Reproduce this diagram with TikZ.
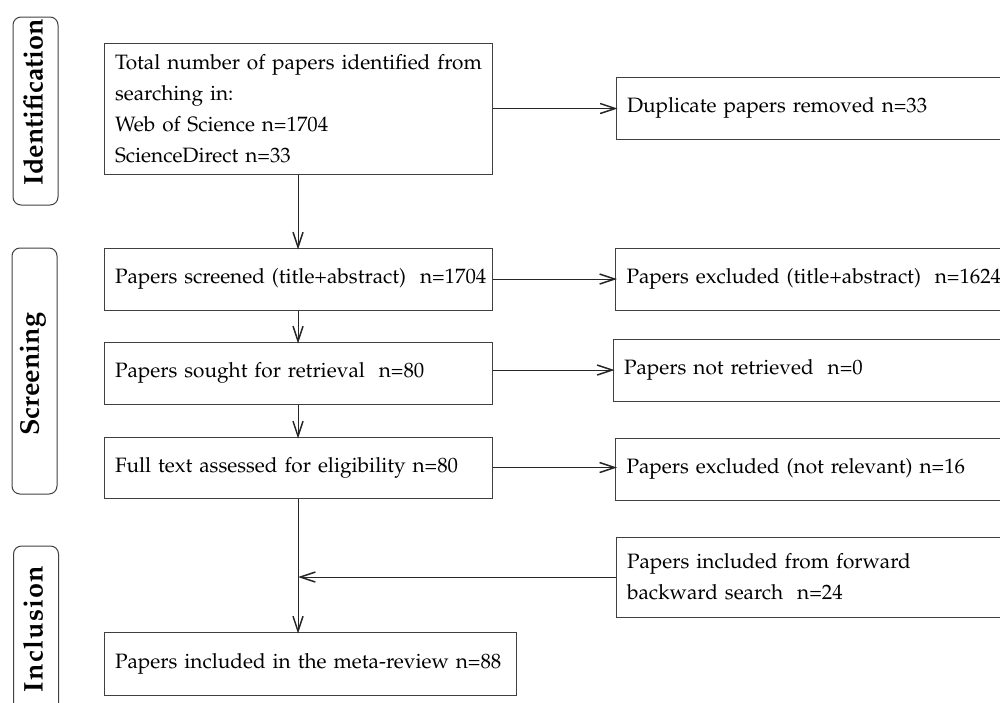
\documentclass[tikz,border=0pt]{standalone}
\usepackage[T1]{fontenc}
\usepackage{mathpazo}
\usetikzlibrary{arrows.meta}
\begin{document}
\begin{tikzpicture}[x=0.5pt,y=-0.5pt,
  box/.style={draw=black!75, line width=0.5pt, rectangle, inner xsep=5.5pt, inner ysep=0pt,
    align=left, font=\fontsize{10.4}{15.5}\selectfont},
  phase/.style={draw=black!75, line width=0.5pt, rounded corners=4pt, minimum width=22.5pt, inner sep=0pt},
  phaselab/.style={rotate=90, font=\fontsize{13.5}{16}\selectfont\bfseries, inner sep=0pt},
  arr/.style={-{Straight Barb[length=7.5pt,width=5pt,line width=0.75pt]}, line width=0.5pt, black!85, shorten >=-1pt},
]
\useasboundingbox (0,0) rectangle (1000,702);

% phase labels
\node[phase, minimum height=94pt] (pid) at (35.5,111) {};
\node[phaselab] (pidt) at (33,102) {Identification};
\node[phase, minimum height=123pt] (pscr) at (34.5,371) {};
\node[phaselab] (pscrt) at (33,374) {Screening};
\node[phase, minimum height=107pt] (pinc) at (36,653) {};
\node[phaselab] (pinct) at (33,629) {I\kern0.6pt n\kern0.6pt c\kern0.6pt l\kern0.6pt u\kern0.6pt s\kern0.6pt i\kern0.6pt o\kern0.6pt n};

% main column
\node[box, text width=183pt, minimum height=65.5pt] (ident) at (298,108.5)
  {\mbox{Total number of papers identified from}\\searching in:\\Web of Science n=1704\\ScienceDirect n=33};
\node[box, text width=183pt, minimum height=31pt] (scr) at (298,279)
  {\mbox{Papers screened (title+abstract)\ \ n=1704}};
\node[box, text width=183pt, minimum height=31pt] (sought) at (298,373)
  {Papers sought for retrieval\ \ n=80};
\node[box, text width=183pt, minimum height=30.5pt] (full) at (298,467.5)
  {Full text assessed for eligibility n=80};
\node[box, text width=195pt, minimum height=31.5pt] (final) at (310,663.5)
  {\mbox{Papers included in the meta-review n=88}};

% right column
\node[box, text width=191pt, minimum height=31pt] (dup) at (818,108)
  {Duplicate papers removed n=33};
\node[box, text width=191pt, minimum height=31pt] (excl) at (817.5,279)
  {\mbox{Papers excluded (title+abstract)\ \ n=1624}};
\node[box, text width=192.5pt, minimum height=31pt] (notret) at (816.5,370)
  {Papers not retrieved\ \ n=0};
\node[box, text width=191pt, minimum height=31pt] (notrel) at (817.5,469)
  {Papers excluded (not relevant) n=16};
\node[box, text width=191pt, minimum height=40pt] (fwd) at (818,577)
  {Papers included from forward\\backward search\ \ n=24};

% connectors
\draw[arr] (ident.south) -- (scr.north);
\draw[arr] (scr.south) -- (sought.north);
\draw[arr] (sought.south) -- (full.north);
\draw[arr] (ident.east) -- (ident.east -| dup.west);
\draw[arr] (scr.east) -- (scr.east -| excl.west);
\draw[arr] (sought.east |- notret.west) -- (notret.west);
\draw[arr] (full.east) -- (full.east -| notrel.west);
\draw[arr] (full.south) -- (full.south |- final.north);
\coordinate (join) at (full.south |- fwd.west);
\draw[arr, shorten >=0pt] (fwd.west) -- (join);
\end{tikzpicture}
\end{document}
